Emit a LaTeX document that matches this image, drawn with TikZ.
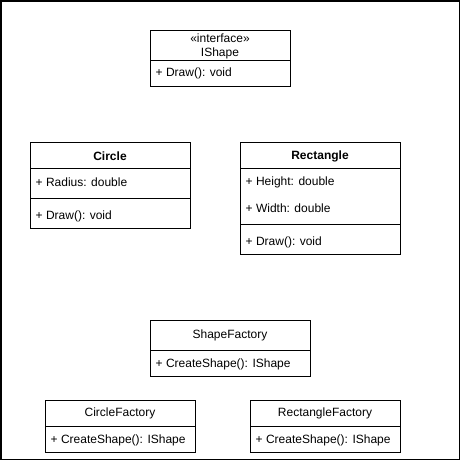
\documentclass[tikz,border=0pt]{standalone}
\usepackage{fontspec}
\setmainfont{Liberation Sans}
\usetikzlibrary{positioning}
\tikzset{
	classtitle/.style={inner sep=0pt, anchor=center, font=\fontsize{12}{14}\selectfont},
	classmember/.style={inner sep=0pt, anchor=west, font=\fontsize{12}{14}\selectfont},
	classbox/.style={line width=1pt},
}

\begin{document}
\begin{tikzpicture}[x=1pt, y=-1pt]
			%%%%% START %%%%%
			\useasboundingbox (0, 0) rectangle (461, 461);
			\draw[line width=1.5pt] (0.75, 0.75) rectangle (459.5, 459.5);
			
			\draw[classbox] (150, 30) rectangle (290, 86);
			\draw[classbox] (150, 60) -- (290, 60);
			\node[classtitle] (ishapeStereo) at (220, 38.5) {«interface»};
			\node[classtitle] (ishapeName) at (220, 53) {IShape};
			\node[classmember] (ishapeDraw) at (155.5, 73.5) {+ Draw(): void};
			
			\draw[classbox] (30, 142) rectangle (190, 228);
			\draw[classbox] (30, 168) -- (190, 168);
			\draw[classbox] (30, 198) -- (190, 198);
			\node[classtitle, font=\fontsize{12}{14}\selectfont\bfseries] (circleName) at (110, 156) {Circle};
			\node[classmember] (circleRadius) at (35.5, 182.5) {+ Radius: double};
			\node[classmember] (circleDraw) at (35.5, 216) {+ Draw(): void};
			
			\draw[classbox] (240, 142) rectangle (400, 254);
			\draw[classbox] (240, 168) -- (400, 168);
			\draw[classbox] (240, 224) -- (400, 224);
			\node[classtitle, font=\fontsize{12}{14}\selectfont\bfseries] (rectName) at (320, 156) {Rectangle};
			\node[classmember] (rectHeight) at (245.5, 182.5) {+ Height: double};
			\node[classmember] (rectWidth) at (245.5, 208.5) {+ Width: double};
			\node[classmember] (rectDraw) at (245.5, 242) {+ Draw(): void};
			
			\draw[classbox] (150, 320) rectangle (310, 376);
			\draw[classbox] (150, 350) -- (310, 350);
			\node[classtitle] (factoryName) at (230, 335.5) {ShapeFactory};
			\node[classmember] (factoryCreate) at (155.5, 364) {+ CreateShape(): IShape};
			
			\draw[classbox] (45, 400) rectangle (195, 452);
			\draw[classbox] (45, 426) -- (195, 426);
			\node[classtitle] (circleFactoryName) at (120, 413.5) {CircleFactory};
			\node[classmember] (circleFactoryCreate) at (50.5, 440) {+ CreateShape(): IShape};
			
			\draw[classbox] (250, 400) rectangle (400, 452);
			\draw[classbox] (250, 426) -- (400, 426);
			\node[classtitle] (rectFactoryName) at (325, 413.5) {RectangleFactory};
			\node[classmember] (rectFactoryCreate) at (255.5, 440) {+ CreateShape(): IShape};
			%%%%% END %%%%%
\end{tikzpicture}
\end{document}
